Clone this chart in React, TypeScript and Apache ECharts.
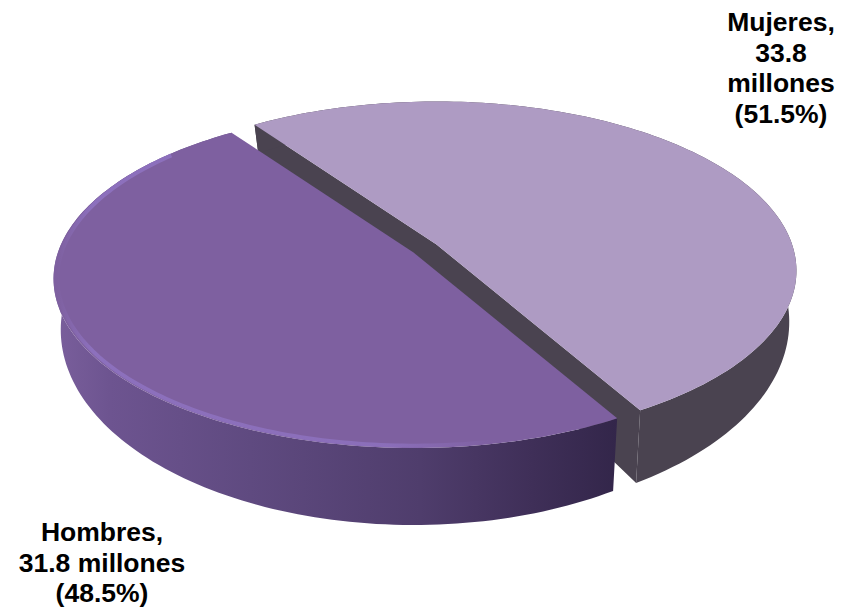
import React, { useEffect, useRef } from "react";
import * as echarts from "echarts";

const categories = ["Mujeres", "Hombres"];
const millions = [33.8, 31.8];
const labelLines = [
  ["Mujeres,", "33.8", "millones", "(51.5%)"],
  ["Hombres,", "31.8 millones", "(48.5%)"],
];
const topColors = ["#ae9bc3", "#7e60a0"];

const START_DEG = 234.8;
const CX = 425.5, CY = 248.5;
const A = 355.6, B = 165.2, K = 0.155;
const OFFSETS = [[11, -4], [-12, 4]];
const LABEL_POS = [[781, 22], [102, 532]];
const LINE_H = 30.6;

const total = millions.reduce((s, v) => s + v, 0);

const top = (deg: number, r = 1) => {
  const X = r * Math.cos((deg * Math.PI) / 180);
  const Y = r * Math.sin((deg * Math.PI) / 180);
  const w = 1 - K * Y;
  return { x: (A * X) / w, y: (B * Y) / w, Y };
};
const bottom = (deg: number) => {
  const p = top(deg);
  return { x: p.x * 0.98, y: p.y + 47 + 26 * p.Y + 4 * p.Y * p.Y };
};
const arc = (from: number, to: number, fn: (d: number) => { x: number; y: number }, ox: number, oy: number, n = 140) => {
  const pts: number[][] = [];
  for (let i = 0; i <= n; i++) {
    const p = fn(from + ((to - from) * i) / n);
    pts.push([CX + ox + p.x, CY + oy + p.y]);
  }
  return pts;
};

const renderItem = (params: any, api: any) => {
  const i = params.dataIndex;
  let before = 0;
  for (let k = 0; k < i; k++) before += millions[k];
  const from = START_DEG + (before / total) * 360;
  const to = from + (api.value(0) / total) * 360;
  const [ox, oy] = OFFSETS[i];
  const topArc = arc(from, to, (d) => top(d), ox, oy);
  const botArc = arc(from, to, bottom, ox, oy);
  const cTop = [CX + ox, CY + oy];
  const cBot = [CX + ox, CY + oy + 47];
  const children: any[] = [];
  const isWoman = i === 0;
  const wallFill = isWoman
    ? "#4a4350"
    : new echarts.graphic.LinearGradient(0, 0, 1, 0, [
        { offset: 0, color: "#7a5f9c" },
        { offset: 0.1, color: "#6d5490" },
        { offset: 0.35, color: "#5f4a80" },
        { offset: 0.65, color: "#4f3d6c" },
        { offset: 0.85, color: "#3f2f58" },
        { offset: 1, color: "#33264a" },
      ]);
  if (isWoman) {
    children.push({
      type: "polygon",
      shape: {
        points: [
          topArc[0],
          cTop,
          topArc[topArc.length - 1],
          botArc[botArc.length - 1],
          cBot,
          botArc[0],
        ],
      },
      style: { fill: "#4a4350" },
    });
  }
  children.push({
    type: "polygon",
    shape: { points: [...topArc, ...[...botArc].reverse()] },
    style: { fill: wallFill },
  });
  children.push({
    type: "polygon",
    shape: { points: [cTop, ...topArc] },
    style: { fill: topColors[i] },
  });
  if (!isWoman) {
    const rim = arc(from + 18, to - 14, (d) => top(d, 0.99), ox, oy);
    children.push({
      type: "polyline",
      shape: { points: rim },
      style: {
        fill: "none",
        lineWidth: 4,
        stroke: new echarts.graphic.LinearGradient(0, 0, 1, 0, [
          { offset: 0, color: "rgba(142,114,192,0)" },
          { offset: 0.08, color: "rgba(142,114,192,0.9)" },
          { offset: 0.75, color: "rgba(142,114,192,0.8)" },
          { offset: 1, color: "rgba(142,114,192,0)" },
        ]),
      },
    });
  }
  labelLines[i].forEach((line, n) => {
    children.push({
      type: "text",
      style: {
        x: LABEL_POS[i][0],
        y: LABEL_POS[i][1] + n * LINE_H,
        text: line,
        fill: "#000",
        font: 'bold 26.5px "Liberation Sans", Arial, sans-serif',
        align: "center",
        verticalAlign: "middle",
      },
    });
  });
  return { type: "group", children };
};

export default function App() {
  const ref = useRef<HTMLDivElement>(null);
  useEffect(() => {
    document.body.style.margin = "0";
    const chart = echarts.init(ref.current!, undefined, { renderer: "svg" });
    chart.setOption({
      animation: false,
      backgroundColor: "#ffffff",
      series: [
        {
          type: "custom",
          coordinateSystem: "none",
          silent: true,
          renderItem,
          data: categories.map((name, i) => ({ name, value: [millions[i]] })),
        },
      ],
    });
    return () => chart.dispose();
  }, []);
  return <div ref={ref} style={{ width: 841, height: 607 }} />;
}
